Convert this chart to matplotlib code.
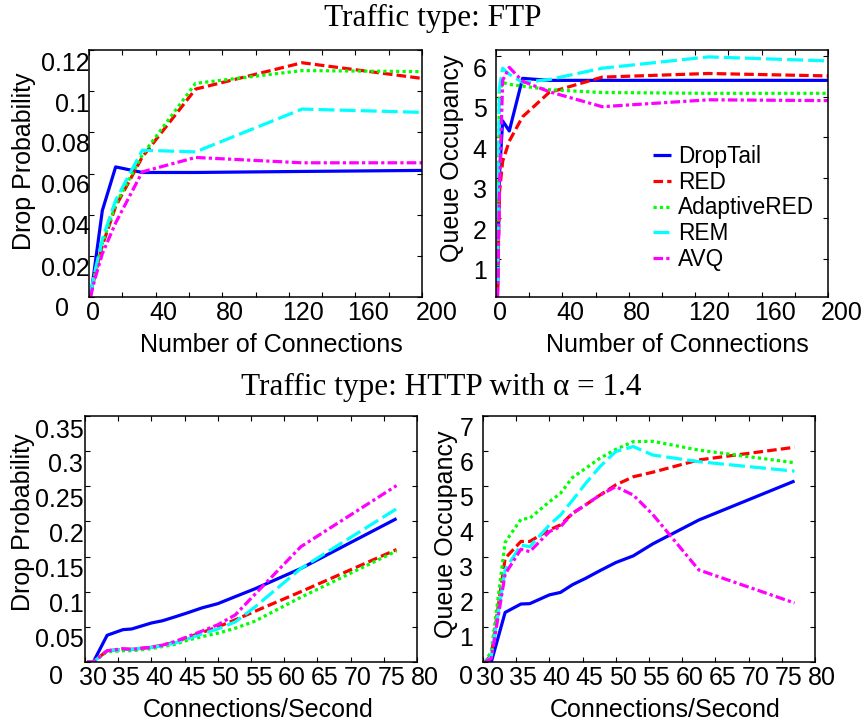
import matplotlib
matplotlib.use('Agg')
import matplotlib.pyplot as plt
from matplotlib.transforms import ScaledTranslation
from matplotlib.ticker import FixedLocator

plt.rcParams['font.family'] = ['Liberation Sans', 'DejaVu Sans']

# ---------------- data ----------------
schemes = ['DropTail', 'RED', 'AdaptiveRED', 'REM', 'AVQ']

ftp_connections = [1, 2, 4, 8, 16, 32, 64, 128, 200]
ftp_drop_droptail = [0.001, 0.006, 0.018, 0.042, 0.0632, 0.0605, 0.0605, 0.061, 0.0615]
ftp_drop_red      = [0.001, 0.005, 0.012, 0.025, 0.044, 0.068, 0.101, 0.1138, 0.1062]
ftp_drop_ared     = [0.001, 0.005, 0.013, 0.026, 0.045, 0.069, 0.1038, 0.110, 0.1095]
ftp_drop_rem      = [0.002, 0.006, 0.014, 0.028, 0.047, 0.0713, 0.0705, 0.0913, 0.0897]
ftp_drop_avq      = [0.000, 0.004, 0.010, 0.021, 0.036, 0.0608, 0.0678, 0.0652, 0.0652]

ftp_queue_droptail = [0.3, 3.0, 4.4, 4.15, 5.45, 5.4, 5.4, 5.4, 5.4]
ftp_queue_red      = [0.2, 2.6, 3.4, 3.9, 4.5, 5.1, 5.48, 5.57, 5.51]
ftp_queue_ared     = [0.5, 5.1, 5.35, 5.3, 5.26, 5.17, 5.1, 5.08, 5.08]
ftp_queue_rem      = [0.4, 5.2, 5.7, 5.55, 5.35, 5.42, 5.7, 5.98, 5.88]
ftp_queue_avq      = [0.05, 2.5, 5.4, 5.72, 5.38, 5.12, 4.75, 4.92, 4.9]

http_rate = [30.3, 31.25, 33.33, 35.71, 37.04, 40.0, 41.67, 43.48, 45.45,
             47.62, 50.0, 52.63, 55.56, 62.5, 76.92]
http_drop_droptail = [0, 0, 0.038, 0.046, 0.047, 0.0555, 0.0587, 0.064, 0.070,
                      0.077, 0.083, 0.093, 0.104, 0.133, 0.204]
http_drop_red      = [0, 0, 0.016, 0.018, 0.018, 0.021, 0.024, 0.028, 0.035,
                      0.042, 0.050, 0.060, 0.072, 0.100, 0.160]
http_drop_ared     = [0, 0, 0.0147, 0.016, 0.016, 0.019, 0.022, 0.025, 0.031,
                      0.036, 0.041, 0.048, 0.058, 0.092, 0.158]
http_drop_rem      = [0, 0, 0.016, 0.018, 0.018, 0.021, 0.023, 0.027, 0.033,
                      0.040, 0.047, 0.057, 0.078, 0.133, 0.218]
http_drop_avq      = [0, 0, 0.016, 0.019, 0.018, 0.021, 0.024, 0.029, 0.036,
                      0.044, 0.053, 0.067, 0.096, 0.164, 0.251]

http_queue_droptail = [0, 0, 1.41, 1.65, 1.66, 1.91, 1.98, 2.2, 2.38,
                       2.6, 2.83, 3.02, 3.36, 4.04, 5.15]
http_queue_red      = [0, 0.2, 2.95, 3.43, 3.43, 3.76, 3.9, 4.23, 4.47,
                       4.75, 5.04, 5.27, 5.4, 5.75, 6.11]
http_queue_ared     = [0, 0.3, 3.4, 4.06, 4.09, 4.56, 4.8, 5.25, 5.51,
                       5.8, 6.05, 6.27, 6.28, 6.03, 5.67]
http_queue_rem      = [0, 0.15, 2.62, 3.33, 3.28, 3.9, 4.18, 4.6, 5.08,
                       5.56, 5.99, 6.13, 5.89, 5.7, 5.43]
http_queue_avq      = [0, 0.1, 2.5, 3.21, 3.14, 3.71, 3.85, 4.23, 4.47,
                       4.75, 4.99, 4.75, 4.2, 2.62, 1.68]

ftp_xticks = [0, 40, 80, 120, 160, 200]
ftp_xminor = [20, 60, 100, 140, 180]
ftp_drop_yticks = [0, 0.02, 0.04, 0.06, 0.08, 0.1, 0.12]
ftp_drop_ylabels = ['0', '0.02', '0.04', '0.06', '0.08', '0.1', '0.12']
ftp_queue_yticks = [1, 2, 3, 4, 5, 6]
http_xticks = [30, 35, 40, 45, 50, 55, 60, 65, 70, 75, 80]
http_drop_yticks = [0, 0.05, 0.1, 0.15, 0.2, 0.25, 0.3, 0.35]
http_drop_ylabels = ['0', '0.05', '0.1', '0.15', '0.2', '0.25', '0.3', '0.35']
http_queue_yticks = [0, 1, 2, 3, 4, 5, 6, 7]

# ---------------- styles ----------------
LW = 2.3
styles = [
    dict(color='#0000ff', linestyle='-'),
    dict(color='#ff0000', dashes=(3.0, 1.3)),
    dict(color='#00ff00', dashes=(1.0, 1.0)),
    dict(color='#00ffff', dashes=(5.0, 1.6)),
    dict(color='#ff00ff', dashes=(3.0, 1.0, 1.0, 1.0)),
]

W, H = 867, 725
fig = plt.figure(figsize=(W / 100, H / 100), dpi=100)


def rect(l, t, r, b):
    return [l / W, 1 - b / H, (r - l) / W, (b - t) / H]


ax_tl = fig.add_axes(rect(89, 50, 422, 297))
ax_tr = fig.add_axes(rect(496, 50, 828, 297))
ax_bl = fig.add_axes(rect(85, 416, 417, 662))
ax_br = fig.add_axes(rect(483, 416, 815, 662))

panels = [
    (ax_tl, ftp_connections, [ftp_drop_droptail, ftp_drop_red, ftp_drop_ared, ftp_drop_rem, ftp_drop_avq]),
    (ax_tr, ftp_connections, [ftp_queue_droptail, ftp_queue_red, ftp_queue_ared, ftp_queue_rem, ftp_queue_avq]),
    (ax_bl, http_rate, [http_drop_droptail, http_drop_red, http_drop_ared, http_drop_rem, http_drop_avq]),
    (ax_br, http_rate, [http_queue_droptail, http_queue_red, http_queue_ared, http_queue_rem, http_queue_avq]),
]

handles = []
for ax, xs, series in panels:
    hs = []
    for name, ys, st in zip(schemes, series, styles):
        h, = ax.plot(xs, ys, lw=LW, label=name, solid_capstyle='butt',
                     dash_capstyle='butt', **st)
        hs.append(h)
    handles = hs
    for sp in ax.spines.values():
        sp.set_linewidth(1.1)
    ax.tick_params(which='both', direction='in', top=True, right=True,
                   length=3.6, width=0.8, labelsize=18, colors='black')

# limits and ticks
ax_tl.set_xlim(0, 200)
ax_tl.set_ylim(0, 0.12)
ax_tr.set_xlim(0, 200)
ax_tr.set_ylim(0.05, 6.15)
for ax in (ax_tl, ax_tr):
    ax.xaxis.set_major_locator(FixedLocator(ftp_xticks))
    ax.xaxis.set_minor_locator(FixedLocator(ftp_xminor))
    ax.set_xticklabels([str(v) for v in ftp_xticks])
ax_tl.yaxis.set_major_locator(FixedLocator(ftp_drop_yticks))
ax_tl.set_yticklabels(ftp_drop_ylabels)
ax_tr.yaxis.set_major_locator(FixedLocator(ftp_queue_yticks))
ax_tr.set_yticklabels([str(v) for v in ftp_queue_yticks])

for ax in (ax_bl, ax_br):
    ax.set_xlim(30, 80)
    ax.xaxis.set_major_locator(FixedLocator(http_xticks))
    ax.set_xticklabels([str(v) for v in http_xticks])
ax_bl.set_ylim(0, 0.35)
ax_bl.yaxis.set_major_locator(FixedLocator(http_drop_yticks))
ax_bl.set_yticklabels(http_drop_ylabels)
ax_br.set_ylim(0, 7)
ax_br.yaxis.set_major_locator(FixedLocator(http_queue_yticks))
ax_br.set_yticklabels([str(v) for v in http_queue_yticks])

# label paddings (points)
ax_tl.tick_params(axis='y', which='both', pad=-0.7)
ax_bl.tick_params(axis='y', which='both', pad=1.2)
ax_tr.tick_params(axis='y', which='both', pad=6.7)
ax_br.tick_params(axis='y', which='both', pad=7.0)
for ax in (ax_tl, ax_tr, ax_bl, ax_br):
    ax.tick_params(axis='x', which='both', pad=3.0)

# axis labels
lab_kw = dict(fontsize=18)
ax_tl.set_ylabel('Drop Probability', va='center', **lab_kw)
ax_tl.yaxis.set_label_coords(-0.195, 0.551)
ax_tl.set_xlabel('Number of Connections', va='center', **lab_kw)
ax_tl.xaxis.set_label_coords(0.549, -0.194)
ax_tr.set_ylabel('Queue Occupancy', va='center', **lab_kw)
ax_tr.yaxis.set_label_coords(-0.133, 0.563)
ax_tr.set_xlabel('Number of Connections', va='center', **lab_kw)
ax_tr.xaxis.set_label_coords(0.547, -0.194)
ax_bl.set_ylabel('Drop Probability', va='center', **lab_kw)
ax_bl.yaxis.set_label_coords(-0.188, 0.569)
ax_bl.set_xlabel('Connections/Second', va='center', **lab_kw)
ax_bl.xaxis.set_label_coords(0.522, -0.195)
ax_br.set_ylabel('Queue Occupancy', va='center', **lab_kw)
ax_br.yaxis.set_label_coords(-0.111, 0.520)
ax_br.set_xlabel('Connections/Second', va='center', **lab_kw)
ax_br.xaxis.set_label_coords(0.548, -0.195)

# titles
title_kw = dict(ha='center', va='center', fontsize=22.5,
                family=['Liberation Serif', 'DejaVu Serif'])
fig.text(433 / W, 1 - 18 / H, 'Traffic type: FTP', **title_kw)
fig.text(441 / W, 1 - 387 / H, 'Traffic type: HTTP with \u03b1 = 1.4', **title_kw)

# legend
ax_tr.legend(handles, schemes, loc='upper left',
             bbox_to_anchor=(653 / W, 1 - 145 / H), bbox_transform=fig.transFigure,
             frameon=False, fontsize=16.3, handlelength=0.8, handletextpad=0.3,
             labelspacing=0.12, borderpad=0, borderaxespad=0)


# per-label pixel offsets (mimic the original's label placement)
def shift(labels, dxs, dys):
    for lab, dx, dy in zip(labels, dxs, dys):
        lab.set_transform(lab.get_transform() +
                          ScaledTranslation(dx / fig.dpi, -dy / fig.dpi, fig.dpi_scale_trans))


shift(ax_tl.get_xticklabels(), [4, 7.5, 8, 14, 13, 15], [0] * 6)
shift(ax_tr.get_xticklabels(), [4, 7.5, 8, 13.5, 13.5, 14], [0] * 6)
shift(ax_bl.get_xticklabels(), [7.5] * 11, [0] * 11)
shift(ax_br.get_xticklabels(), [7] * 11, [0] * 11)
shift(ax_tl.get_yticklabels(), [-21, 0, 0, 0, 0, 0, 0], [10, 11, 10, 10, 10, 11, 11.5])
shift(ax_tr.get_yticklabels(), [0] * 6, [11] * 6)
shift(ax_bl.get_yticklabels(), [-20, 0, 0, 0, 0, 0, 0, 0], [13, 11, 11, 11, 11, 11, 11, 13])
shift(ax_br.get_yticklabels(), [0] * 8, [13, 10, 10, 10, 10, 10, 10, 11])

fig.savefig('out.png', dpi=100)
